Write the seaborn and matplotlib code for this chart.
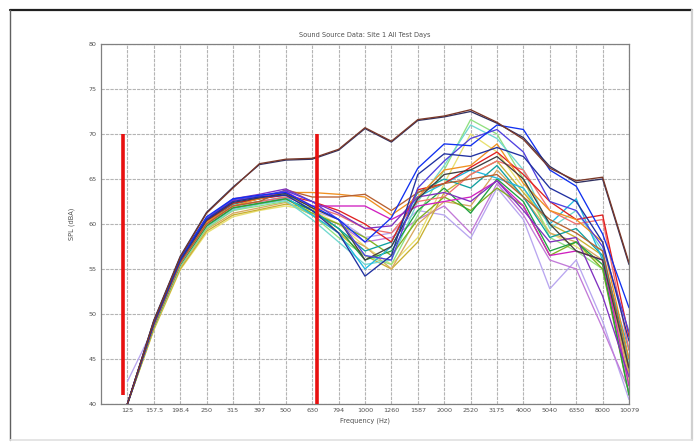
import matplotlib
matplotlib.use("Agg")
import matplotlib.pyplot as plt
import numpy as np
import pandas as pd
import seaborn as sns
from matplotlib.lines import Line2D

freq_labels = ['125', '157.5', '198.4', '250', '315', '397', '500', '630', '794', '1000',
               '1260', '1587', '2000', '2520', '3175', '4000', '5040', '6350', '8000', '10079']

# top (loudest) days, drawn almost on top of each other
top_brown = [40, 49.2, 56.3, 61.2, 64.0, 66.7, 67.2, 67.3, 68.3, 70.7, 69.2, 71.6, 72.0, 72.7, 71.3, 69.4, 66.2, 64.8, 65.2, 55.7]
top_navy = [40, 49.3, 56.4, 61.3, 64.1, 66.6, 67.1, 67.2, 68.2, 70.6, 69.1, 71.5, 71.9, 72.5, 71.2, 69.6, 66.4, 64.6, 65.0, 55.5]

# remaining test days
day_blue = [40, 49.2, 56.2, 60.8, 62.8, 63.2, 63.5, 62.0, 60.5, 58.0, 60.7, 66.2, 68.9, 68.7, 71.0, 70.5, 66.0, 64.2, 58.9, 50.7]
day_navy = [40, 49.0, 56.0, 60.5, 62.5, 63.0, 63.2, 61.5, 59.0, 54.2, 56.5, 65.5, 67.8, 67.5, 68.5, 67.5, 64.0, 62.5, 58.0, 47.0]
day_orange = [40, 48.8, 55.8, 60.2, 62.0, 62.8, 63.5, 63.5, 63.3, 63.0, 61.0, 63.0, 66.0, 66.5, 68.9, 64.5, 61.5, 60.5, 58.0, 45.0]
day_brown = [40, 48.8, 55.7, 60.0, 62.0, 62.5, 63.8, 63.0, 63.0, 63.3, 61.5, 63.5, 64.5, 65.0, 65.5, 63.0, 60.5, 59.0, 57.0, 44.0]
day_magenta = [40, 49.0, 56.0, 60.5, 62.6, 63.0, 63.6, 62.0, 62.0, 62.0, 60.5, 62.0, 62.5, 63.0, 64.8, 62.0, 56.5, 57.0, 56.0, 42.0]
day_purple = [40, 49.1, 56.1, 60.6, 62.8, 63.3, 63.9, 62.5, 61.2, 59.5, 59.8, 63.0, 63.5, 62.5, 64.8, 61.5, 58.0, 58.5, 52.0, 43.0]
day_cyan = [40, 48.7, 55.6, 60.0, 62.0, 62.5, 63.0, 61.0, 59.0, 55.0, 57.5, 63.0, 64.5, 66.0, 65.1, 64.0, 60.0, 62.8, 56.0, 46.0]
day_green = [40, 48.6, 55.5, 59.8, 61.8, 62.3, 62.8, 61.5, 59.5, 56.0, 57.0, 61.5, 64.0, 61.2, 65.0, 62.5, 57.0, 58.0, 55.5, 41.0]
day_lightgreen = [40, 48.5, 55.3, 59.5, 61.5, 62.0, 62.5, 61.0, 58.5, 56.5, 55.5, 61.0, 66.0, 71.6, 70.0, 65.0, 58.5, 57.0, 55.0, 42.0]
day_aqua = [40, 48.6, 55.4, 59.7, 61.6, 62.2, 62.6, 60.5, 58.0, 55.5, 56.0, 62.5, 66.5, 71.0, 69.5, 66.0, 59.5, 61.5, 57.0, 44.5]
day_olive = [40, 48.3, 55.0, 59.2, 61.0, 61.6, 62.2, 61.8, 59.0, 56.5, 55.0, 58.0, 63.5, 65.5, 67.0, 63.5, 60.0, 58.5, 56.5, 43.5]
day_yellow = [40, 48.2, 54.9, 59.0, 60.8, 61.5, 62.0, 61.5, 60.0, 57.5, 55.5, 58.5, 64.5, 70.0, 68.0, 64.0, 59.0, 57.5, 55.5, 42.5]
day_red = [40, 48.9, 55.9, 60.3, 62.3, 62.8, 63.2, 62.5, 61.5, 60.0, 58.0, 63.8, 64.5, 66.3, 68.0, 65.5, 62.5, 60.5, 61.0, 47.5]
day_salmon = [40, 48.7, 55.6, 60.0, 62.0, 62.5, 63.0, 62.0, 61.0, 59.5, 59.0, 62.5, 63.0, 65.5, 67.0, 66.0, 61.5, 60.0, 60.5, 46.0]
day_lavender = [42.5, 48.5, 55.4, 59.6, 61.5, 62.2, 62.7, 61.5, 60.5, 58.5, 59.0, 61.5, 61.0, 58.4, 64.0, 60.5, 52.8, 56.0, 49.2, 40.5]
day_violet = [40, 48.6, 55.5, 59.8, 61.7, 62.3, 62.9, 61.0, 60.0, 58.0, 58.5, 60.5, 62.0, 59.0, 64.5, 61.0, 56.0, 55.0, 48.4, 41.5]
day_teal = [40, 48.8, 55.8, 60.2, 62.2, 62.8, 63.3, 61.5, 59.5, 57.0, 58.0, 63.5, 65.0, 64.0, 66.5, 63.0, 58.5, 59.5, 56.5, 45.0]
day_gray = [40, 48.9, 55.9, 60.4, 62.4, 62.9, 63.4, 61.8, 60.5, 56.0, 57.5, 62.8, 65.5, 66.0, 67.5, 65.0, 60.0, 57.0, 56.0, 44.0]
day_tan = [40, 48.4, 55.2, 59.4, 61.2, 61.8, 62.4, 61.0, 59.0, 57.5, 55.0, 60.0, 62.5, 62.0, 66.0, 63.0, 59.0, 58.0, 56.0, 43.0]
day_blueviolet = [40, 49.0, 56.0, 60.6, 62.7, 63.1, 63.7, 62.5, 60.5, 56.5, 56.0, 64.0, 67.0, 69.5, 70.5, 68.0, 62.5, 61.5, 57.5, 48.0]
day_olivegreen = [40, 48.6, 55.5, 59.8, 61.8, 62.3, 62.8, 61.2, 60.0, 58.5, 56.5, 60.5, 63.0, 61.5, 64.0, 62.0, 56.5, 58.0, 55.0, 41.0]

series = {
    'lavender': (day_lavender, '#b9a6f0'),
    'violet': (day_violet, '#c27ad8'),
    'yellow': (day_yellow, '#e8e070'),
    'olive': (day_olive, '#c8b030'),
    'tan': (day_tan, '#d8a860'),
    'lightgreen': (day_lightgreen, '#90e080'),
    'aqua': (day_aqua, '#70d8d0'),
    'olivegreen': (day_olivegreen, '#80b020'),
    'green': (day_green, '#20a040'),
    'teal': (day_teal, '#10a0a0'),
    'cyan': (day_cyan, '#20b8e0'),
    'salmon': (day_salmon, '#f07070'),
    'red': (day_red, '#e02020'),
    'orange': (day_orange, '#f09020'),
    'brown': (day_brown, '#b86030'),
    'magenta': (day_magenta, '#d020c0'),
    'purple': (day_purple, '#8030c0'),
    'gray': (day_gray, '#404040'),
    'blueviolet': (day_blueviolet, '#5040e0'),
    'navy': (day_navy, '#2030a0'),
    'blue': (day_blue, '#1030f0'),
    'top_navy': (top_navy, '#303060'),
    'top_brown': (top_brown, '#7a3828'),
}

# red band markers (x in tick index units, y limits in dBA)
marker_x = [-0.15, 7.2]
marker_low = [41.0, 40.0]
marker_high = [70.0, 70.0]

frames = []
for name, (vals, _) in series.items():
    frames.append(pd.DataFrame({'idx': np.arange(len(freq_labels)), 'spl': vals, 'day': name}))
df = pd.concat(frames, ignore_index=True)
palette = {name: col for name, (_, col) in series.items()}

sns.set_style('white')
fig = plt.figure(figsize=(6.98, 4.47), dpi=100)
ax = fig.add_axes([101 / 698, 1 - 404 / 447, (629 - 101) / 698, (404 - 44) / 447])

sns.lineplot(data=df, x='idx', y='spl', hue='day', palette=palette, hue_order=list(series.keys()),
             linewidth=0.95, legend=False, estimator=None, sort=False, ax=ax)

ax.vlines(marker_x, marker_low, marker_high, colors='#e81010', linewidth=2.6, zorder=5)

ax.set_xlim(-1, 19)
ax.set_ylim(40, 80)
ax.set_xticks(np.arange(len(freq_labels)))
ax.set_xticklabels(freq_labels)
ax.set_yticks(np.arange(40, 81, 5))
ax.tick_params(axis='both', direction='in', length=3, labelsize=4.6, colors='#707070',
               labelcolor='#505050', pad=3)
ax.grid(True, color='#b4b4b4', linestyle=(0, (3, 1)), linewidth=0.8)
ax.set_axisbelow(True)
for s in ax.spines.values():
    s.set_color('#808080')
    s.set_linewidth(0.9)

ax.set_title('Sound Source Data: Site 1 All Test Days', fontsize=4.8, color='#505050', pad=5)
ax.set_xlabel('Frequency (Hz)', fontsize=4.8, color='#505050', labelpad=3)
ax.set_ylabel('SPL (dBA)', fontsize=4.8, color='#505050', labelpad=10)

# outer picture frame
fig.add_artist(Line2D([10 / 698, 692 / 698], [1 - 10 / 447, 1 - 10 / 447], color='#202020', linewidth=1.6))
fig.add_artist(Line2D([10 / 698, 10 / 698], [1 - 10 / 447, 1 - 440 / 447], color='#606060', linewidth=1.0))
fig.add_artist(Line2D([692 / 698, 692 / 698], [1 - 10 / 447, 1 - 440 / 447], color='#d0d0d0', linewidth=1.6))
fig.add_artist(Line2D([10 / 698, 692 / 698], [1 - 440 / 447, 1 - 440 / 447], color='#e0e0e0', linewidth=1.2))

fig.savefig('out.png', dpi=100)
